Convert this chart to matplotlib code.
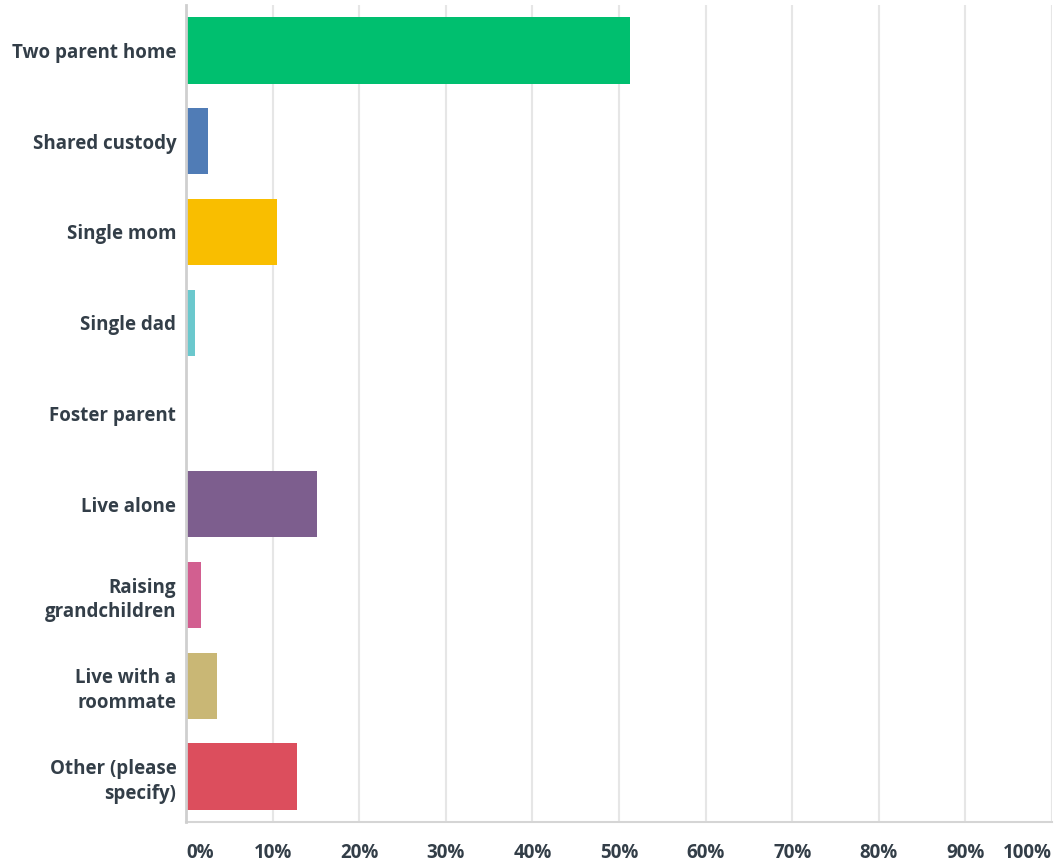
import numpy as np
import matplotlib.pyplot as plt

# Answer choices and share of respondents (%)
categories = [
    "Two parent home",
    "Shared custody",
    "Single mom",
    "Single dad",
    "Foster parent",
    "Live alone",
    "Raising\ngrandchildren",
    "Live with a\nroommate",
    "Other (please\nspecify)",
]
percents = [51.3, 2.5, 10.5, 1.0, 0.0, 15.1, 1.7, 3.6, 12.8]
bar_colors = ["#00BF6F", "#507CB6", "#F9BE00", "#6BC8CD", "#FF8B4F",
              "#7D5E8E", "#D25F90", "#C9B775", "#DC4E5D"]
tick_values = list(range(0, 101, 10))
tick_labels = [f"{v}%" for v in tick_values]

text_color = "#333E48"
plt.rcParams['font.family'] = ['Open Sans', 'DejaVu Sans']

fig = plt.figure(figsize=(10.55, 8.67), dpi=100)
ax = fig.add_axes([186 / 1055, 45 / 867, 866 / 1055, 817 / 867])

y = np.arange(len(categories))
ax.barh(y, percents, height=0.73, color=bar_colors, zorder=3)

ax.set_xlim(0, 100)
ax.set_ylim(len(categories) - 0.5, -0.5)

# vertical gridlines
for v in tick_values[1:]:
    ax.axvline(v, color="#E6E6E6", lw=1.5, zorder=1)

for side in ["top", "right"]:
    ax.spines[side].set_visible(False)
ax.spines["left"].set_color("#CFCFCF")
ax.spines["left"].set_linewidth(2)
ax.spines["bottom"].set_color("#D5D5D5")
ax.spines["bottom"].set_linewidth(1.5)
ax.spines["left"].set_zorder(4)

ax.set_yticks(y)
ax.set_yticklabels(categories, fontsize=13.5, fontweight="bold",
                   color=text_color, linespacing=1.3)
ax.tick_params(axis="y", length=0, pad=7)

ax.set_xticks(tick_values)
ax.set_xticklabels(tick_labels, fontsize=13.5, fontweight="bold", color=text_color)
ax.tick_params(axis="x", length=0, pad=15)
xt = ax.get_xticklabels()
xt[0].set_horizontalalignment("left")
xt[-1].set_horizontalalignment("right")

fig.savefig("out.png", dpi=100)
